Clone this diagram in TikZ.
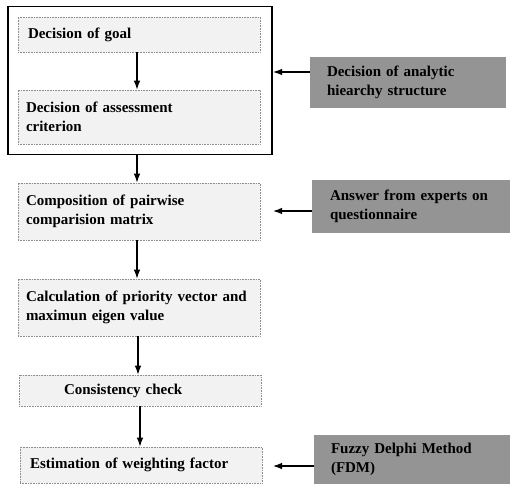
\documentclass[tikz,border=0pt]{standalone}
\usepackage{fontspec}
\setmainfont{Liberation Serif}
\usetikzlibrary{arrows.meta}
\definecolor{stepfill}{gray}{0.95}
\definecolor{stepline}{gray}{0.55}
\definecolor{inputfill}{gray}{0.58}
\tikzset{
  stepbox/.style={draw=stepline, densely dotted, fill=stepfill, line width=0.6pt,
    minimum width=242pt, text width=226pt, align=left, inner sep=0pt,
    font=\fontsize{15}{19}\selectfont\bfseries},
  inputbox/.style={fill=inputfill, minimum width=196pt, text width=162pt, align=left,
    inner sep=0pt, font=\fontsize{15}{19}\selectfont\bfseries},
  flow/.style={-{Latex[length=9pt,width=6.5pt]}, line width=1.2pt},
  outer/.style={draw, line width=1.8pt}
}
\begin{document}
\begin{tikzpicture}[x=1pt,y=-1pt]
\useasboundingbox (0,0) rectangle (511,491);
\node[stepbox, minimum height=35pt] (b1) at (139,34.5) {\hspace*{2pt}Decision of goal};
\node[stepbox, minimum height=54pt] (b2) at (139,117) {Decision of assessment\\criterion};
\node[outer, minimum width=264pt, minimum height=148pt, inner sep=0pt] (out) at (140,80.5) {};
\node[stepbox, minimum height=57pt] (b3) at (139,211.5) {Composition of pairwise\\comparision matrix};
\node[stepbox, minimum height=57pt] (b4) at (139,307.5) {Calculation of priority vector and\\maximun eigen value};
\node[stepbox, minimum height=31pt] (b5) at (140,390.5) {\hspace*{37pt}Consistency check};
\node[stepbox, minimum height=36pt] (b6) at (141,465) {\hspace*{2pt}Estimation of weighting factor};

\node[inputbox, minimum height=51pt] (ia) at (408,82.5) {Decision of analytic\\hiearchy structure};
\node[inputbox, minimum height=53pt, minimum width=198pt] (ib) at (411,206.5) {Answer from experts on\\questionnaire};
\node[inputbox, minimum height=49pt] (ic) at (412,459.5) {Fuzzy Delphi Method\\(FDM)};

\draw[flow] (b1.south -| 137,0) -- (b2.north -| 137,0);
\draw[flow] (out.south -| 137,0) -- (b3.north -| 137,0);
\draw[flow] (b3.south -| 137,0) -- (b4.north -| 137,0);
\draw[flow] (b4.south -| 138,0) -- (b5.north -| 138,0);
\draw[flow] (b5.south -| 140,0) -- (b6.north -| 140,0);

\coordinate (ta) at (273,72);
\coordinate (tb) at (273,211);
\coordinate (tc) at (273,466);
\draw[flow] (ia.west |- ta) -- (ta);
\draw[flow] (ib.west |- tb) -- (tb);
\draw[flow] (ic.west |- tc) -- (tc);
\end{tikzpicture}
\end{document}
